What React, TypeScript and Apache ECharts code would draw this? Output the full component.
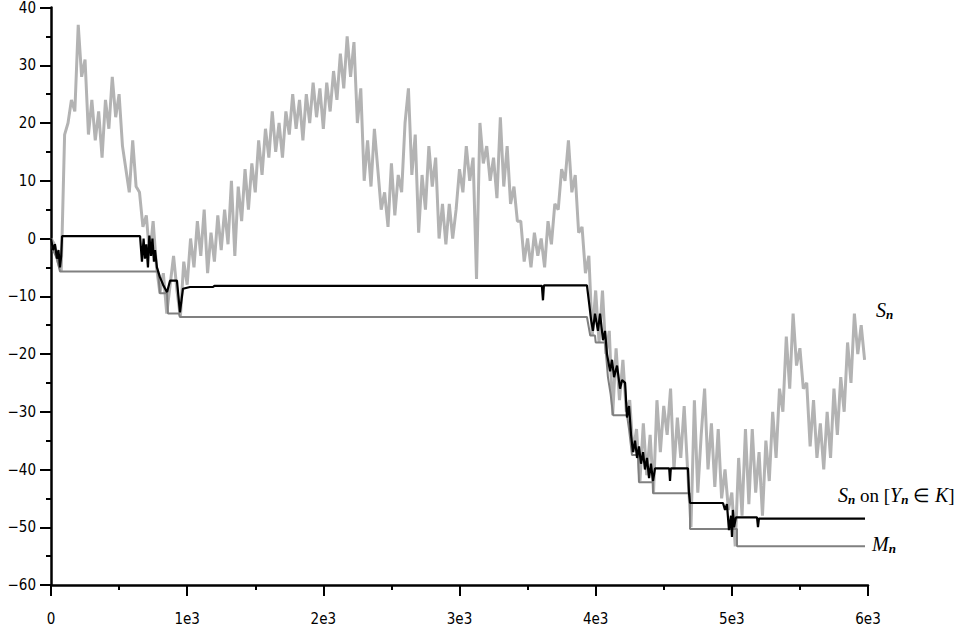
import React, { useEffect, useRef } from "react";
import * as echarts from "echarts";

const S_STEP = 25;
const sValues = [
  0, -1, -4, -5.7, 18, 20, 24, 22, 37, 28,
  31, 18, 24, 17, 22, 14, 24, 19, 28, 21,
  25, 16, 12, 8, 17, 9, 8, 2, 4, -3,
  3, -5, -9.5, -6, -13, -8, -3, -9, -13.6, -4,
  -8, 0, -5, 3, -3, 5, -6, 1, -4, 4,
  -2, 5, -1, 10, -3, 9, 3, 12, 5, 13,
  8, 17, 11, 19, 14, 22, 15, 20, 14, 22,
  18, 25, 19, 24, 17, 25, 20, 27, 21, 26,
  19, 27, 22, 29, 24, 32, 26, 35, 28, 34,
  20, 26, 10, 17, 9, 19, 12, 5, 8, 2,
  13, 4, 11, 8, 20, 26, 11, 18, 1, 11,
  5, 16, 9, 14, 0, 6, -1, 6, 0, 5,
  12, 8, 16, 10, 14, -7, 20, 13, 16, 10,
  14, 7, 21, 9, 16, 6, 9, 3, 3, -4,
  0, -5, 1, -3, 0, -5, 3, -1, 6, 5,
  12, 10, 17, 8, 11, 1, 2, -6, -3, -16.8,
  -9, -18, -9, -20, -16, -30.6, -19, -28, -21, -30,
  -28, -37, -33, -42, -32, -41, -34, -44, -28, -37,
  -29, -34, -26, -40, -31, -38, -29, -40, -50, -28,
  -44, -34, -26, -40, -32, -43, -33, -45, -40, -47,
  -44, -53.3, -38, -48, -33, -46, -33, -44, -37, -48,
  -35, -42, -30, -38, -26, -30, -17, -26, -13, -22,
  -19, -26, -25, -36, -28, -38, -32, -40, -30, -38,
  -26, -34, -24, -30, -18, -25, -13, -20, -15, -21,
];

// S_n on [Y_n in K]  ([n, value])
const kPath: [number, number][] = [
  [0, 0], [15, -2], [29, -1], [44, -3.5], [55, -2], [66, -5], [75, -3], [81, 0.4],
  [654, 0.4], [668, -4], [680, 0], [690, -3.5], [700, -1], [712, -5], [722, 0.5], [735, -3],
  [745, 0], [756, -4], [764, -2], [778, -5],
  [800, -6.7], [823, -8], [852, -9.3], [874, -7.3], [925, -7.3], [947, -12.8], [969, -8.7],
  [1021, -8.4], [1190, -8.4], [1200, -8.2],
  [3605, -8.2], [3613, -10.7], [3620, -8.1], [3936, -8.1],
  [3951, -11], [3966, -14], [3980, -16], [3995, -13], [4017, -16], [4032, -13], [4054, -17.6],
  [4069, -16], [4083, -20], [4106, -23], [4120, -21], [4135, -24], [4157, -22], [4179, -26],
  [4194, -24.5], [4216, -25], [4230, -31], [4245, -29], [4260, -34], [4274, -37], [4289, -35],
  [4304, -38], [4318, -36], [4333, -39], [4348, -37], [4362, -40], [4377, -38], [4392, -41.5],
  [4406, -39], [4421, -42], [4436, -39.8],
  [4540, -39.8], [4546, -42], [4552, -39.8], [4678, -39.8], [4685, -44], [4693, -45.8],
  [4935, -45.8], [4950, -47], [4964, -46], [4979, -50.5], [4994, -48], [5001, -51.7],
  [5008, -47], [5016, -50], [5030, -48.3], [5185, -48.3], [5192, -50], [5199, -48.5], [5978, -48.5],
];

// M_n running minimum ([n, value])
const mPath: [number, number][] = [
  [0, 0], [15, -2], [44, -3.5], [66, -5.7], [786, -5.7], [800, -9.5], [852, -9.5], [859, -13],
  [940, -13], [947, -13.6], [3936, -13.6], [3960, -16.8], [3995, -16.8], [4000, -18], [4069, -18],
  [4090, -24], [4110, -27], [4128, -30.6], [4230, -30.6], [4245, -33], [4267, -37.5], [4311, -37.5],
  [4318, -42.2], [4421, -42.2], [4421, -44.1], [4693, -44.1], [4693, -50.3], [5038, -50.3],
  [5038, -53.3], [5978, -53.3],
];

const X_TICKS = { min: 0, max: 6000, interval: 1000 };
const Y_TICKS = { min: -60, max: 40, interval: 10 };

const LABEL_FONT = "DejaVu Sans Condensed";
const SERIF = "Liberation Serif";

export default function App() {
  const ref = useRef<HTMLDivElement>(null);
  useEffect(() => {
    document.body.style.margin = "0";
    const chart = echarts.init(ref.current!, null, { renderer: "svg" });
    const sData = sValues.map((v, i) => [i * S_STEP, v]);
    const itRich = {
      i: { fontFamily: SERIF, fontStyle: "italic", fontSize: 20, fill: "#000", lineHeight: 22 },
      s: { fontFamily: SERIF, fontStyle: "italic", fontWeight: "bold", fontSize: 13, fill: "#000", verticalAlign: "bottom", lineHeight: 22, padding: [7, 0, 0, 0] },
      r: { fontFamily: SERIF, fontSize: 19, fill: "#000", lineHeight: 22 },
    };
    const axisCommon = {
      axisLine: { show: true, onZero: false, lineStyle: { color: "#000", width: 2.5 } },
      axisTick: { show: true, inside: false, lineStyle: { color: "#000", width: 2 } },
      minorTick: { show: true, splitNumber: 2, lineStyle: { color: "#000", width: 2 } },
      splitLine: { show: false },
      minorSplitLine: { show: false },
    };
    chart.setOption({
      animation: false,
      backgroundColor: "#fff",
      grid: { left: 51, right: 98, top: 7, bottom: 43 },
      xAxis: {
        type: "value",
        ...X_TICKS,
        ...axisCommon,
        axisTick: { ...axisCommon.axisTick, length: 11 },
        minorTick: { ...axisCommon.minorTick, length: 5 },
        axisLabel: {
          margin: 26,
          color: "#000",
          fontFamily: LABEL_FONT,
          fontSize: 15,
          formatter: (v: number) => (v === 0 ? "0" : `${v / 1000}e3`),
        },
      },
      yAxis: {
        type: "value",
        ...Y_TICKS,
        ...axisCommon,
        axisTick: { ...axisCommon.axisTick, length: 11 },
        minorTick: { ...axisCommon.minorTick, length: 5 },
        axisLabel: {
          margin: 15,
          color: "#000",
          fontFamily: LABEL_FONT,
          fontSize: 15,
          formatter: (v: number) => (v < 0 ? `\u2212${-v}` : String(v)),
        },
      },
      series: [
        {
          name: "S_n",
          type: "line",
          data: sData,
          showSymbol: false,
          lineStyle: { color: "#b3b3b3", width: 3 },
          z: 1,
        },
        {
          name: "M_n",
          type: "line",
          data: mPath,
          showSymbol: false,
          lineStyle: { color: "#808080", width: 2 },
          z: 2,
        },
        {
          name: "S_n on K",
          type: "line",
          data: kPath,
          showSymbol: false,
          lineStyle: { color: "#000", width: 2.2 },
          z: 3,
        },
      ],
      graphic: [
        { type: "text", left: 876, top: 300, style: { text: "{i|S}{s|n}", rich: itRich } },
        { type: "text", left: 838, top: 485, style: { text: "{i|S}{s|n}{r| on [}{i|Y}{s|n}{r| \u2208 }{i|K}{r|]}", rich: itRich } },
        { type: "text", left: 872, top: 534, style: { text: "{i|M}{s|n}", rich: itRich } },
      ],
    });
    return () => chart.dispose();
  }, []);
  return <div ref={ref} style={{ width: 966, height: 628 }} />;
}
